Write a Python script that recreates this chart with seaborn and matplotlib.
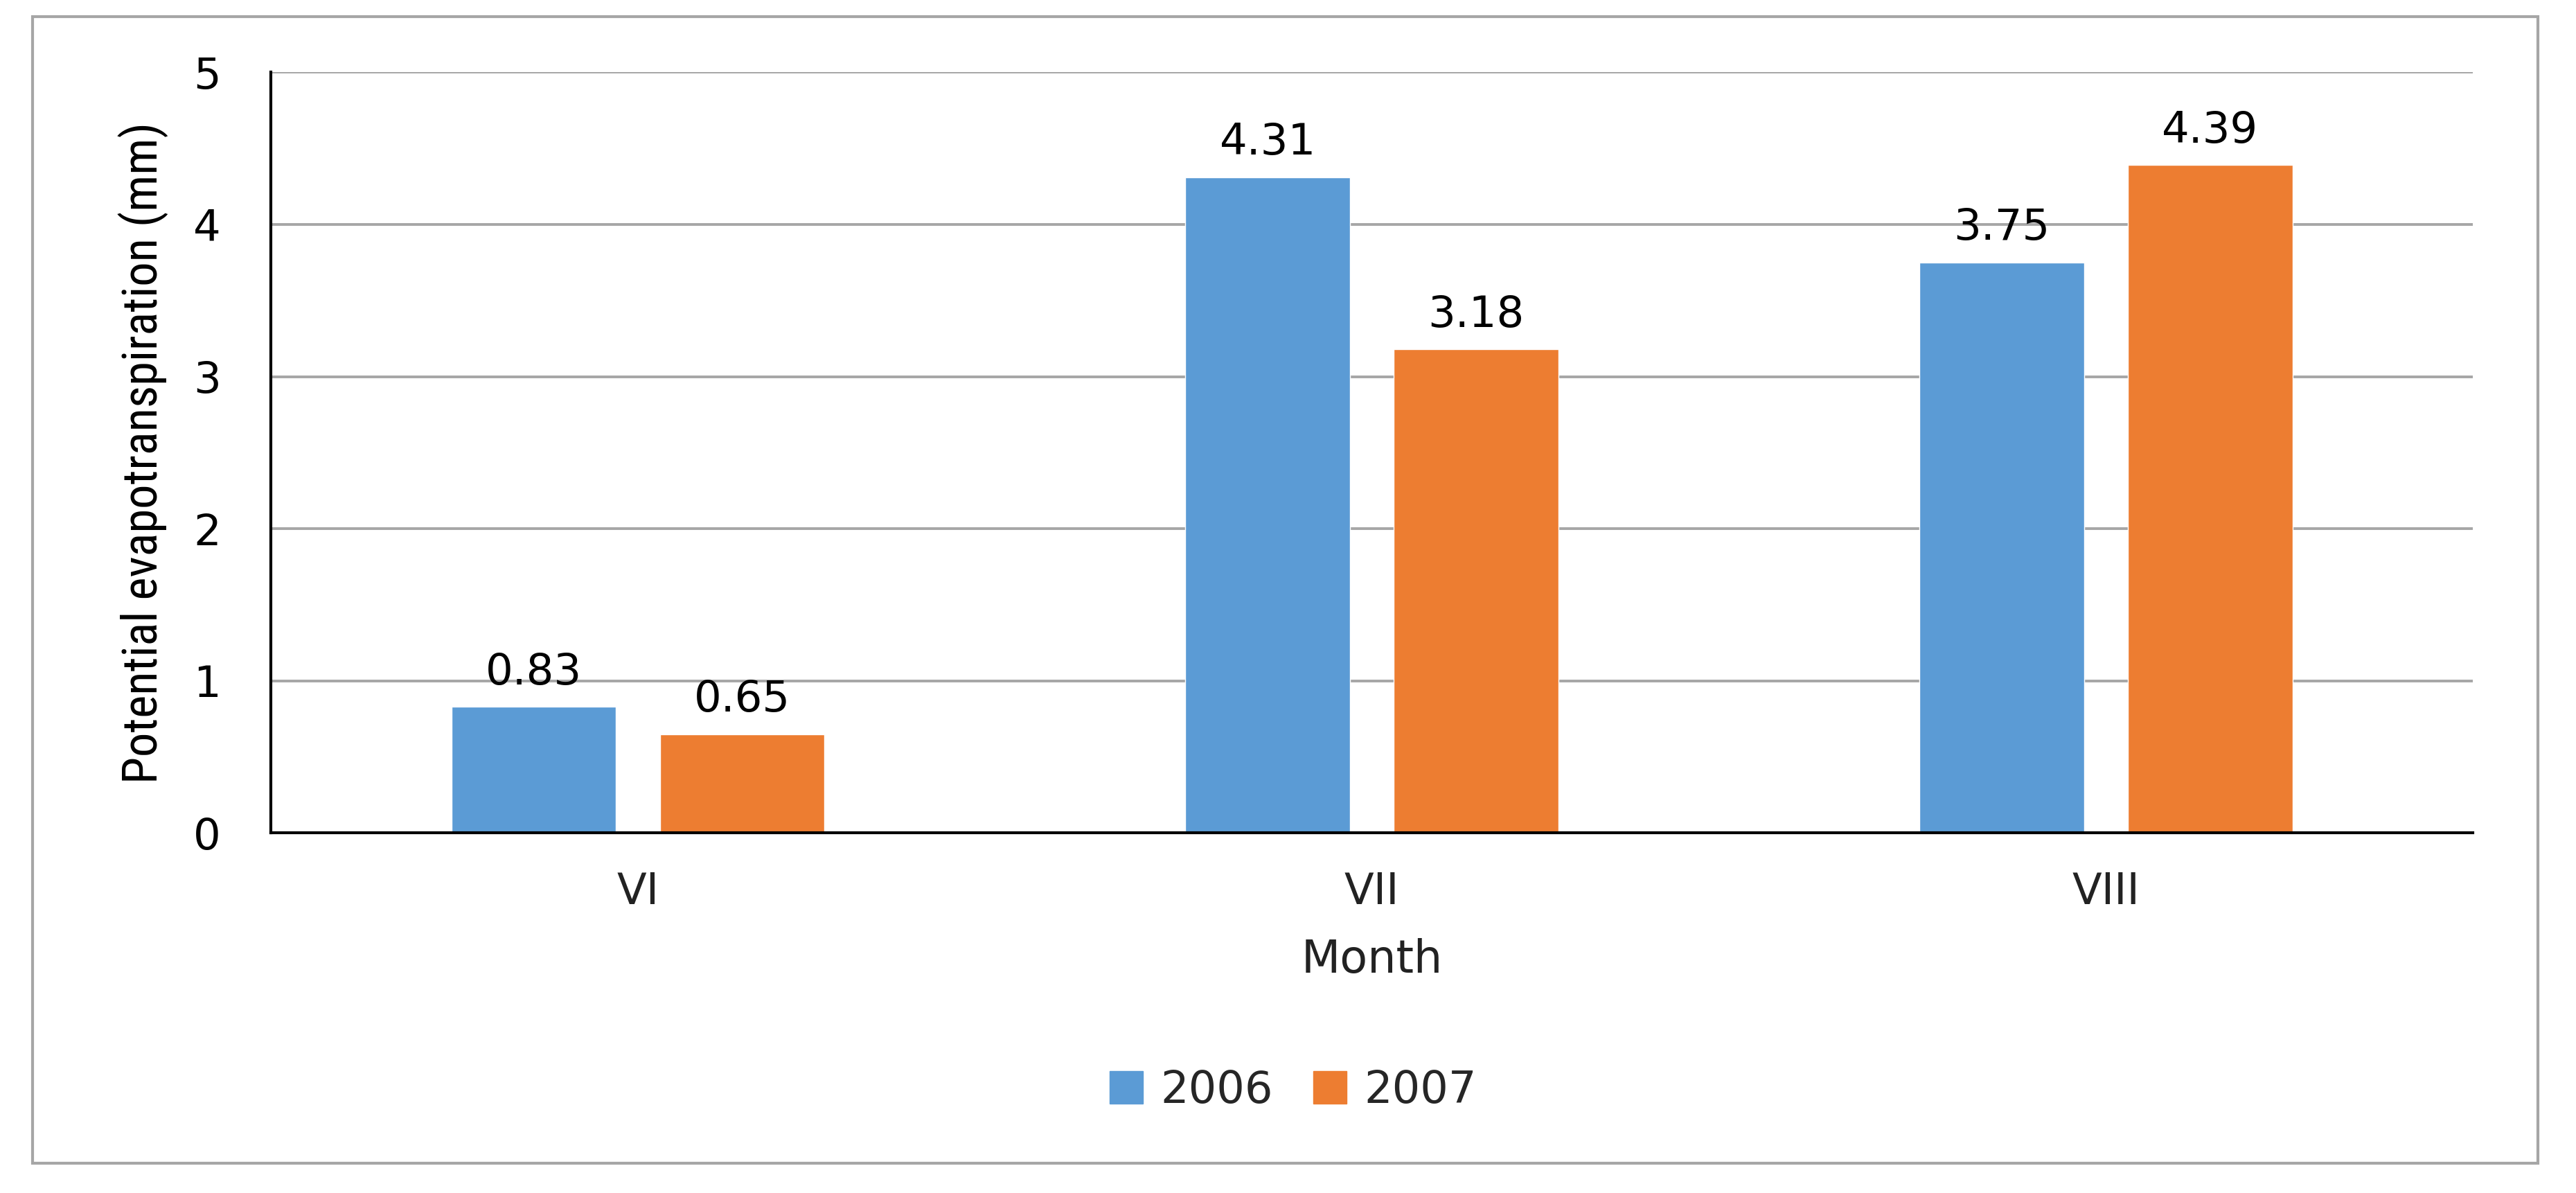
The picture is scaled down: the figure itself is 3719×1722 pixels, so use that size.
import matplotlib
matplotlib.use("Agg")
import matplotlib.pyplot as plt
from matplotlib import font_manager
import seaborn as sns
import pandas as pd
from matplotlib.patches import Rectangle

months = ["VI", "VII", "VIII"]
years = ["2006", "2007"]
values_2006 = [0.83, 4.31, 3.75]
values_2007 = [0.65, 3.18, 4.39]
yticks = [0, 1, 2, 3, 4, 5]
colors = ["#5B9BD5", "#ED7D31"]

df = pd.DataFrame({
    "Month": months * 2,
    "Year": [years[0]] * 3 + [years[1]] * 3,
    "Value": values_2006 + values_2007,
})

sns.set_theme(style="white")
plt.rcParams["font.family"] = ["DejaVu Sans"]

# pick a narrow face for the y label if one is installed
names = {f.name for f in font_manager.fontManager.ttflist}
narrow = None
for cand in ["Liberation Sans Narrow", "Roboto Condensed", "Open Sans Condensed",
             "DejaVu Sans Condensed", "Noto Sans Condensed"]:
    if cand in names:
        narrow = cand
        break
ylab_font = {"family": [narrow or "Open Sans", "DejaVu Sans"]}
if narrow is None and "DejaVu Sans" in names:
    ylab_font = {"family": ["DejaVu Sans"], "stretch": "condensed"}

W, H = 3719, 1722
fig = plt.figure(figsize=(W / 100, H / 100), dpi=100)
fig.patch.set_facecolor("white")
ax = fig.add_axes([0.1052, 0.3017, 0.960 - 0.1052, 0.9394 - 0.3017])

sns.barplot(data=df, x="Month", y="Value", hue="Year", palette=colors,
            width=0.568, gap=0.21, ax=ax, legend=False, saturation=1,
            err_kws={"linewidth": 0})

ax.set_ylim(0, 5)
ax.set_yticks(yticks)
ax.set_xlim(-0.5, 2.5)
ax.yaxis.grid(True, color="#A6A6A6", linewidth=2.8)
ax.set_axisbelow(True)
for s in ["top", "right"]:
    ax.spines[s].set_visible(False)
for s in ["left", "bottom"]:
    ax.spines[s].set_color("black")
    ax.spines[s].set_linewidth(3.0)
    ax.spines[s].set_zorder(5)

ax.tick_params(axis="y", length=0, pad=52, labelsize=45, labelcolor="black")
ax.tick_params(axis="x", length=0, pad=40, labelsize=45, labelcolor="#222222")

for c in ax.containers:
    ax.bar_label(c, fmt="%.2f", padding=14, fontsize=45, color="black")

ax.set_xlabel("Month", fontsize=47, labelpad=26, color="#222222")
ylab = ax.set_ylabel("Potential evapotranspiration (mm)", color="black",
                     fontsize=50, **ylab_font)
ax.yaxis.set_label_coords(-0.0466, 0.5)

# fit the label length to the reference (about 955 px)
fig.canvas.draw()
r = fig.canvas.get_renderer()
h = ylab.get_window_extent(r).height
ylab.set_fontsize(50 * 955.0 / h)

handles = [Rectangle((0, 0), 1, 1, color=colors[0]),
           Rectangle((0, 0), 1, 1, color=colors[1])]
fig.legend(handles, years, loc="center", bbox_to_anchor=(0.502, 0.086),
           ncol=2, frameon=False, fontsize=46, handlelength=0.75,
           handleheight=0.75, handletextpad=0.4, columnspacing=0.9)

fig.add_artist(Rectangle((0.01276, 0.0248), 0.9853 - 0.01276, 0.9862 - 0.0248,
                         transform=fig.transFigure, fill=False,
                         edgecolor="#A6A6A6", linewidth=3.0))

fig.savefig("out.png", dpi=100, facecolor="white")
